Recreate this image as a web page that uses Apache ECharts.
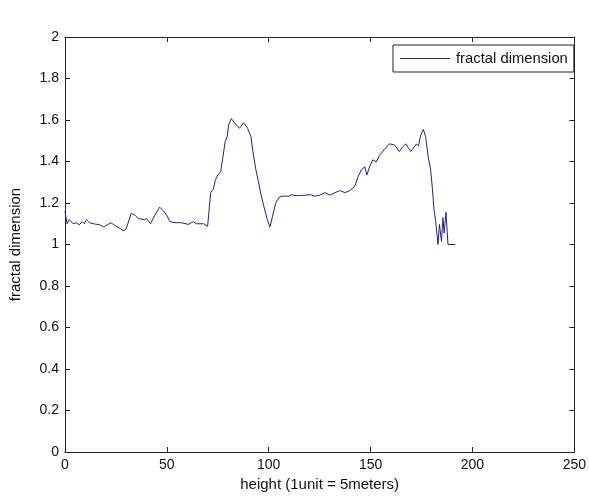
<!DOCTYPE html>
<html>
<head>
<meta charset="utf-8">
<script src="https://cdn.jsdelivr.net/npm/echarts@6/dist/echarts.min.js"></script>
<style>
html,body{margin:0;padding:0;background:#fff;}
#chart{width:589px;height:497px;}
</style>
</head>
<body>
<div id="chart"></div>
<script>
const xTicksMax = 250;
const yTicksMax = 2;
const seriesName = 'fractal dimension';
const heights = [0,1,2,4,5.5,7,8.5,9.5,10.5,12,14,17,19,22.5,24,26.5,29,30,32.5,34.5,36,39,40,42,44,46.5,48.5,50,51.5,54,57,60.5,63,64.5,68,70,71.5,72.7,73.8,75,76.4,77.5,78.6,79.6,80.3,81.6,83.2,85.6,87.7,89.6,91.3,92.1,93.7,94.8,96.1,97.7,99.4,100.6,101.8,103.4,105,106.6,109.8,111,114,117,120.4,122.8,125.2,127.7,130.1,132.5,134.9,137.4,139.8,142.2,143.9,145.5,147.1,148.2,149.5,151.1,152.8,154.4,156.8,159.2,161.7,164.1,165.7,167.3,169.7,171.4,172.5,173.5,174.6,175.9,177,178.3,179.4,180.3,181.1,181.9,182.7,183.1,183.8,184.8,185.5,186.1,187,188,191.5];
const fractalDim = [1.16,1.10,1.12,1.10,1.105,1.095,1.11,1.10,1.12,1.105,1.10,1.095,1.085,1.105,1.095,1.08,1.065,1.075,1.15,1.14,1.125,1.12,1.125,1.10,1.14,1.18,1.16,1.14,1.11,1.105,1.105,1.097,1.11,1.10,1.10,1.088,1.25,1.265,1.31,1.335,1.35,1.42,1.495,1.52,1.575,1.607,1.587,1.56,1.587,1.56,1.52,1.455,1.36,1.31,1.245,1.18,1.117,1.085,1.133,1.198,1.227,1.233,1.233,1.24,1.235,1.237,1.24,1.233,1.238,1.25,1.238,1.25,1.26,1.25,1.26,1.28,1.328,1.36,1.375,1.335,1.375,1.408,1.398,1.43,1.458,1.485,1.48,1.448,1.47,1.485,1.448,1.47,1.485,1.475,1.527,1.555,1.52,1.42,1.365,1.275,1.17,1.115,1.04,1.0,1.097,1.015,1.13,1.055,1.155,1.0,1.0];

const chart = echarts.init(document.getElementById('chart'), null, {renderer:'canvas'});
const axisCol = '#222';
const font = 'Liberation Sans, Arial, sans-serif';
const baseAxis = {
  axisLine:{show:true, onZero:false, lineStyle:{color:axisCol, width:1}},
  axisTick:{show:true, inside:true, length:5, lineStyle:{color:axisCol}},
  splitLine:{show:false}
};
chart.setOption({
  animation:false,
  backgroundColor:'#fff',
  grid:{left:62, right:12, top:37, bottom:45, containLabel:false},
  legend:{
    show:true, left:393, top:45,
    orient:'horizontal',
    borderColor:'#222', borderWidth:1, padding:[6,6,6,7],
    itemWidth:50, itemHeight:10, itemGap:4,
    icon:'path://M0,5L50,5L50,6L0,6Z',
    textStyle:{fontFamily:font, fontSize:14.8, color:'#111', padding:[0,0,0,1]},
    data:[{name:seriesName}]
  },
  xAxis:[
    Object.assign({}, baseAxis, {type:'value', min:0, max:xTicksMax, interval:50, position:'bottom',
      name:'height (1unit = 5meters)', nameLocation:'middle', nameGap:22,
      nameTextStyle:{fontFamily:font, fontSize:15, color:'#111'},
      axisLabel:{fontFamily:font, fontSize:14, color:'#111', margin:6}}),
    Object.assign({}, baseAxis, {type:'value', min:0, max:xTicksMax, interval:50, position:'top',
      axisLabel:{show:false}})
  ],
  yAxis:[
    Object.assign({}, baseAxis, {type:'value', min:0, max:yTicksMax, interval:0.2, position:'left',
      name:'fractal dimension', nameLocation:'middle', nameGap:42, nameRotate:90,
      nameTextStyle:{fontFamily:font, fontSize:15, color:'#111'},
      axisLabel:{fontFamily:font, fontSize:14, color:'#111', margin:6}}),
    Object.assign({}, baseAxis, {type:'value', min:0, max:yTicksMax, interval:0.2, position:'right',
      axisLabel:{show:false}})
  ],
  series:[{
    name:seriesName, type:'line', xAxisIndex:0, yAxisIndex:0,
    showSymbol:false, symbol:'none',
    lineStyle:{color:'#24247e', width:1},
    itemStyle:{color:'#24247e'},
    data:heights.map((h,i)=>[h, fractalDim[i]])
  }]
});
</script>
</body>
</html>
